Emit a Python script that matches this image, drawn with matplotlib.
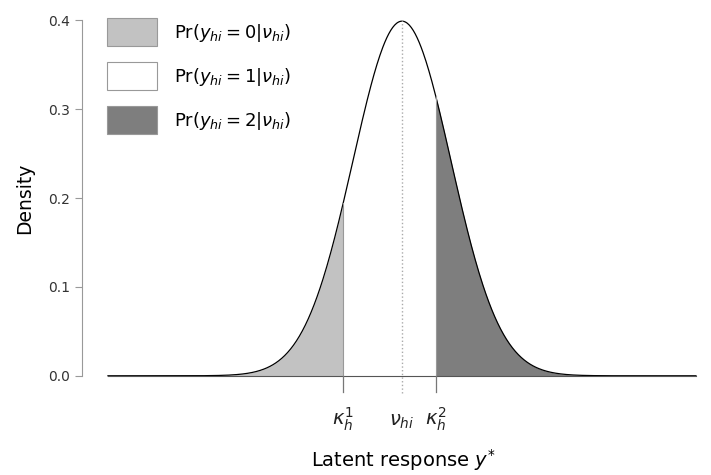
import numpy as np
import matplotlib
matplotlib.use('Agg')
import matplotlib.pyplot as plt
from matplotlib.patches import Patch

# latent normal density and the two cut points
mu = 0.0
sigma = 1.0
x_lo, x_hi = -6.0, 6.0
kappa = [-1.20, 0.69]
tick_pos = [kappa[0], mu, kappa[1]]
tick_labels = [r'$\kappa_h^1$', r'$\nu_{hi}$', r'$\kappa_h^2$']
y_ticks = [0.0, 0.1, 0.2, 0.3, 0.4]
legend_labels = [r'Pr$(y_{hi} = 0|\nu_{hi})$',
                 r'Pr$(y_{hi} = 1|\nu_{hi})$',
                 r'Pr$(y_{hi} = 2|\nu_{hi})$']
fill_colors = ['#c2c2c2', 'white', '#7e7e7e']

plt.rcParams['font.family'] = 'DejaVu Sans'
plt.rcParams['mathtext.fontset'] = 'dejavusans'

xs = np.linspace(x_lo, x_hi, 600)
dens = np.exp(-0.5 * ((xs - mu) / sigma) ** 2) / (sigma * np.sqrt(2 * np.pi))

fig = plt.figure(figsize=(7.11, 4.75), dpi=100)
ax = fig.add_axes([82 / 711, 85 / 475, 629 / 711, 384 / 475])
ax.set_xlim(-6.53, -6.53 + 629 / 49.0)
ax.set_ylim(-0.016, 0.416)

# shaded regions
ax.fill_between(xs, 0, dens, where=xs <= kappa[0], color=fill_colors[0], lw=0)
ax.fill_between(xs, 0, dens, where=(xs >= kappa[0]) & (xs <= kappa[1]),
                color=fill_colors[1], lw=0)
ax.fill_between(xs, 0, dens, where=xs >= kappa[1], color=fill_colors[2], lw=0)

ax.plot(xs, dens, color='black', lw=0.9)
ax.plot([x_lo, x_hi], [0, 0], color='#555555', lw=0.8)

# mean line (dotted) and cut point ticks
ax.plot([mu, mu], [-0.019, 0.4], color='#aaaaaa', lw=1, ls=':', clip_on=False)
for k in kappa:
    pk = np.exp(-0.5 * ((k - mu) / sigma) ** 2) / (sigma * np.sqrt(2 * np.pi))
    ax.plot([k, k], [0, pk], color='#999999', lw=0.8)
    ax.plot([k, k], [-0.018, 0], color='#777777', lw=0.9, clip_on=False)

for p, lab in zip(tick_pos, tick_labels):
    ax.text(p, -0.056, lab, ha='center', va='baseline', fontsize=14,
            color='#222222', clip_on=False)

ax.set_xticks([])
ax.set_yticks(y_ticks)
ax.set_yticklabels(['0.0', '0.1', '0.2', '0.3', '0.4'])
ax.tick_params(axis='y', colors='#999999', labelcolor='#333333',
               labelsize=10, length=5, width=0.8)
for s in ['top', 'right', 'bottom']:
    ax.spines[s].set_visible(False)
ax.spines['left'].set_bounds(0, 0.4)
ax.spines['left'].set_color('#999999')
ax.spines['left'].set_linewidth(0.8)

fig.text(25 / 711, 1 - 198 / 475, 'Density', rotation=90, ha='center',
         va='center', fontsize=13.5)
fig.text(403 / 711, 1 - 460 / 475, r'Latent response $y^{*}$', ha='center',
         va='center', fontsize=14)

handles = [Patch(facecolor=c, edgecolor='#999999', lw=0.8) for c in fill_colors]
ax.legend(handles, legend_labels, loc='upper left', frameon=False,
          bbox_to_anchor=(107 / 711, 1 - 18 / 475), bbox_transform=fig.transFigure,
          borderaxespad=0, borderpad=0, handlelength=2.75, handleheight=2.0,
          labelspacing=0.9, handletextpad=0.95, fontsize=13)

fig.savefig('out.png', dpi=100)
